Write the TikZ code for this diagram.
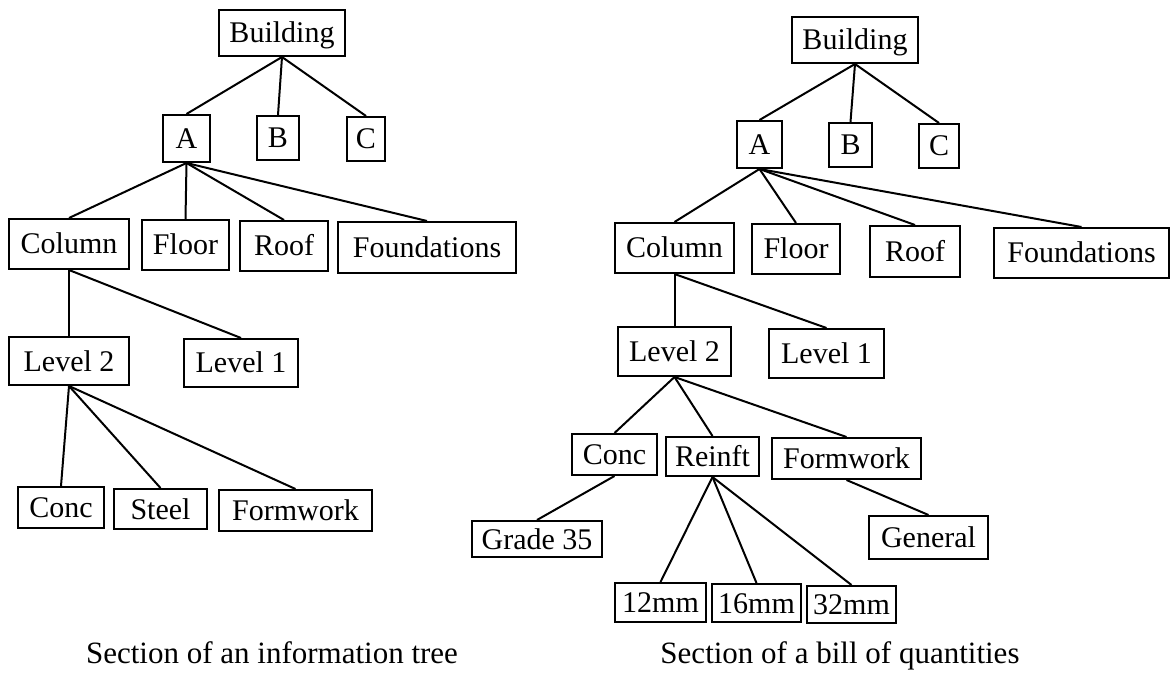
\documentclass[tikz,border=0pt]{standalone}
\usepackage{fontspec}
\setmainfont{Liberation Serif}

\begin{document}
\begin{tikzpicture}[
    x=1pt, y=-1pt,
    box/.style={draw, line width=2pt, inner sep=0pt, text height=24pt, text depth=4pt,
                font=\fontsize{30}{32}\selectfont},
    link/.style={line width=2pt},
    caption/.style={anchor=base, font=\fontsize{31}{33}\selectfont}
]
   \useasboundingbox (0,0) rectangle (1171,679);

   % Left tree: information tree
   \node[box, minimum width=126pt, minimum height=46pt] (lbuild) at (282,33) {Building};
   \node[box, minimum width=47pt, minimum height=47pt] (la) at (186.5,138.5) {A};
   \node[box, minimum width=42pt, minimum height=44pt] (lb) at (278,138) {B};
   \node[box, minimum width=38pt, minimum height=44pt] (lc) at (366,139) {C};
   \node[box, minimum width=120pt, minimum height=50pt] (lcol) at (69,244) {Column};
   \node[box, minimum width=87pt, minimum height=50pt] (lfloor) at (185.5,245) {Floor};
   \node[box, minimum width=88pt, minimum height=50pt] (lroof) at (284,246) {Roof};
   \node[box, minimum width=178pt, minimum height=51pt] (lfound) at (427,247.5) {Foundations};
   \node[box, minimum width=120pt, minimum height=48pt] (llev2) at (69,361) {Level 2};
   \node[box, minimum width=114pt, minimum height=48pt] (llev1) at (241,363) {Level 1};
   \node[box, minimum width=86pt, minimum height=41pt] (lconc) at (61,507.5) {Conc};
   \node[box, minimum width=93pt, minimum height=40pt] (lsteel) at (160.5,509) {Steel};
   \node[box, minimum width=153pt, minimum height=41pt] (lform) at (295.5,510.5) {Formwork};

   % Right tree: bill of quantities
   \node[box, minimum width=126pt, minimum height=46pt] (rbuild) at (855,40) {Building};
   \node[box, minimum width=45pt, minimum height=47pt] (ra) at (759.5,144.5) {A};
   \node[box, minimum width=43pt, minimum height=44pt] (rb) at (850.5,145) {B};
   \node[box, minimum width=40pt, minimum height=44pt] (rc) at (939,146) {C};
   \node[box, minimum width=119pt, minimum height=50pt] (rcol) at (674.5,248) {Column};
   \node[box, minimum width=88pt, minimum height=50pt] (rfloor) at (796,249) {Floor};
   \node[box, minimum width=90pt, minimum height=51pt] (rroof) at (915,251.5) {Roof};
   \node[box, minimum width=175pt, minimum height=50pt] (rfound) at (1081.5,253) {Foundations};
   \node[box, minimum width=113pt, minimum height=49pt] (rlev2) at (674.5,351.5) {Level 2};
   \node[box, minimum width=115pt, minimum height=49pt] (rlev1) at (826.5,353.5) {Level 1};
   \node[box, minimum width=85pt, minimum height=41pt] (rconc) at (614.5,454.5) {Conc};
   \node[box, minimum width=93pt, minimum height=39pt] (rreinf) at (712.5,456.5) {Reinft};
   \node[box, minimum width=149pt, minimum height=41pt] (rform) at (846.5,458.5) {Formwork};
   \node[box, minimum width=130pt, minimum height=36pt] (rgrade) at (537,539) {Grade 35};
   \node[box, minimum width=119pt, minimum height=43pt] (rgen) at (928.5,537.5) {General};
   \node[box, minimum width=91pt, minimum height=39pt] (r12) at (660.5,602.5) {12mm};
   \node[box, minimum width=89pt, minimum height=38pt] (r16) at (756.5,603) {16mm};
   \node[box, minimum width=89pt, minimum height=37pt] (r32) at (851.5,604.5) {32mm};

   % Links
   \path[link]
   (lbuild.south) edge (la.north) edge (lb.north) edge (lc.north)
   (la.south) edge (lcol.north) edge (lfloor.north) edge (lroof.north) edge (lfound.north)
   (lcol.south) edge (llev2.north) edge (llev1.north)
   (llev2.south) edge (lconc.north) edge (lsteel.north) edge (lform.north);

   \path[link]
   (rbuild.south) edge (ra.north) edge (rb.north) edge (rc.north)
   (ra.south) edge (rcol.north) edge (rfloor.north) edge (rroof.north) edge (rfound.north)
   (rcol.south) edge (rlev2.north) edge (rlev1.north)
   (rlev2.south) edge (rconc.north) edge (rreinf.north) edge (rform.north)
   (rconc.south) edge (rgrade.north)
   (rreinf.south) edge (r12.north) edge (r16.north) edge (r32.north)
   (rform.south) edge (rgen.north);

   % Captions
   \node[caption] (lcap) at (272,663) {Section of an information tree};
   \node[caption] (rcap) at (840,663) {Section of a bill of quantities};
\end{tikzpicture}
\end{document}
